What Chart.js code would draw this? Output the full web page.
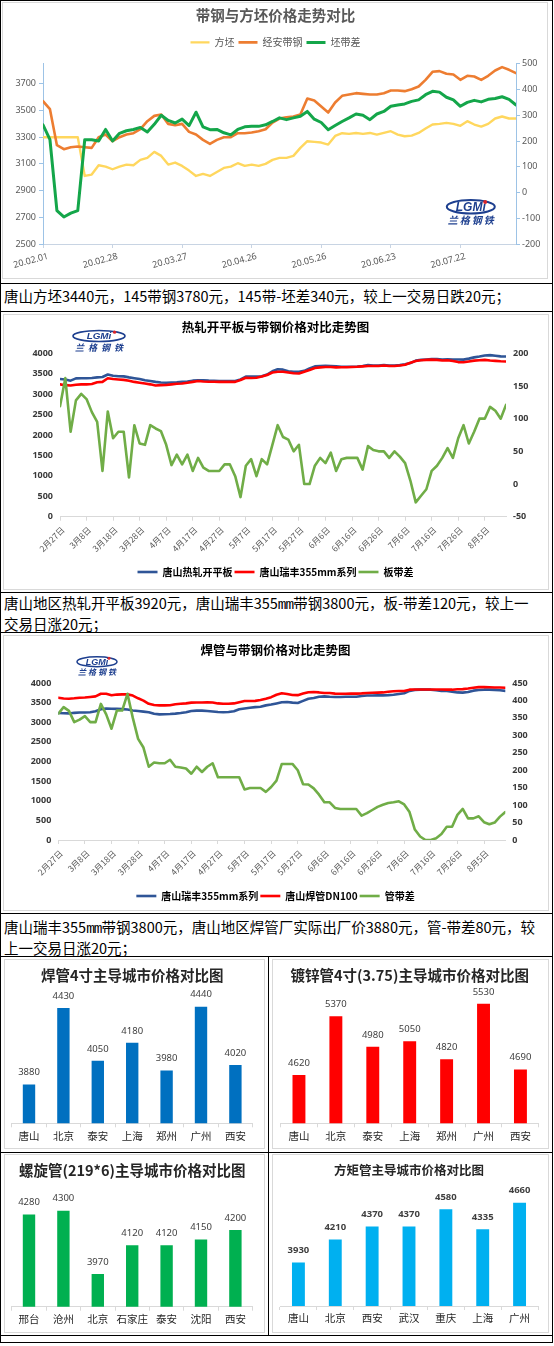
<!DOCTYPE html>
<html lang="zh-CN">
<head>
<meta charset="utf-8">
<title>带钢、焊管价格对比</title>
<script src="https://cdn.jsdelivr.net/npm/chart.js@4.4.1/dist/chart.umd.min.js"></script>
<style>
  html, body { margin: 0; padding: 0; background: #fff; }
  body { width: 554px; height: 1346px; position: relative; overflow: hidden;
         font-family: "Noto Sans CJK SC", "Noto Sans", sans-serif; }
  .hl { position: absolute; left: 0; width: 553px; height: 1px; background: #000; }
  .vl { position: absolute; width: 1px; background: #000; }
  .frame { position: absolute; border: 1px solid #d9d9d9; box-sizing: border-box; }
  canvas { position: absolute; }
  .note { position: absolute; left: 4px; font-size: 14.5px; line-height: 17.5px; color: #000; white-space: nowrap; }
  .mm { font-family: "Liberation Mono", monospace; letter-spacing: -1px; }
</style>
</head>
<body>

<!-- 表格线 -->
<div class="hl" style="top:0"></div>
<div class="hl" style="top:283px"></div>
<div class="hl" style="top:311px"></div>
<div class="hl" style="top:592px"></div>
<div class="hl" style="top:632px"></div>
<div class="hl" style="top:913px"></div>
<div class="hl" style="top:956px"></div>
<div class="hl" style="top:1152px"></div>
<div class="hl" style="top:1335px"></div>
<div class="hl" style="top:1342px"></div>
<div class="vl" style="left:0;top:0;height:1343px"></div>
<div class="vl" style="left:552px;top:0;height:1343px"></div>
<div class="vl" style="left:268px;top:956px;height:380px"></div>

<!-- 图表外框 -->
<div class="frame" style="left:2px;top:2px;width:546px;height:277px"></div>
<div class="frame" style="left:3px;top:314px;width:546px;height:276px"></div>
<div class="frame" style="left:3px;top:635px;width:546px;height:276px"></div>
<div class="frame" style="left:4px;top:959px;width:261px;height:190px"></div>
<div class="frame" style="left:272px;top:959px;width:277px;height:190px"></div>
<div class="frame" style="left:4px;top:1154px;width:261px;height:179px"></div>
<div class="frame" style="left:272px;top:1154px;width:277px;height:179px"></div>

<canvas id="c1" width="545" height="275" style="left:3px;top:3px"></canvas>
<div class="note" style="top:287px">唐山方坯3440元，145带钢3780元，145带-坯差340元，较上一交易日跌20元；</div>

<canvas id="c2" width="545" height="275" style="left:3px;top:314px"></canvas>
<div class="note" style="top:594px">唐山地区热轧开平板3920元，唐山瑞丰355<span class="mm">mm</span>带钢3800元，板-带差120元，较上一<br>交易日涨20元；</div>

<canvas id="c3" width="545" height="276" style="left:3px;top:635px"></canvas>
<div class="note" style="top:918px">唐山瑞丰355<span class="mm">mm</span>带钢3800元，唐山地区焊管厂实际出厂价3880元，管-带差80元，较<br>上一交易日涨20元；</div>

<canvas id="b1" width="259" height="188" style="left:5px;top:960px"></canvas>
<canvas id="b2" width="275" height="188" style="left:273px;top:960px"></canvas>
<canvas id="b3" width="259" height="175" style="left:5px;top:1156px"></canvas>
<canvas id="b4" width="275" height="175" style="left:273px;top:1156px"></canvas>

<script>
// ---------- 图1：带钢与方坯（每两个交易日取一点） ----------
const dateTicks1 = ['20.02.01', '20.02.28', '20.03.27', '20.04.26', '20.05.26', '20.06.23', '20.07.22'];
const leftTicks1 = [2500, 2700, 2900, 3100, 3300, 3500, 3700];
const rightTicks1 = [-200, -100, 0, 100, 200, 300, 400, 500];
const billet = [3300, 3300, 3300, 3300, 3300, 3300, 3010, 3020, 3090, 3080,
  3060, 3080, 3095, 3090, 3130, 3145, 3190, 3160, 3095, 3110,
  3085, 3050, 3010, 3025, 3010, 3040, 3070, 3080, 3105, 3085,
  3095, 3085, 3100, 3130, 3145, 3145, 3160, 3220, 3270, 3265,
  3260, 3245, 3310, 3330, 3325, 3332, 3325, 3332, 3320, 3332,
  3345, 3320, 3307, 3312, 3332, 3365, 3395, 3400, 3407, 3400,
  3385, 3420, 3395, 3380, 3400, 3440, 3455, 3440, 3440];
const jinganStrip = [3570, 3510, 3240, 3210, 3225, 3230, 3225, 3220, 3300, 3320,
  3270, 3300, 3320, 3330, 3360, 3420, 3460, 3470, 3400, 3390,
  3400, 3340, 3320, 3280, 3250, 3280, 3300, 3300, 3330, 3330,
  3335, 3345, 3360, 3410, 3440, 3450, 3455, 3470, 3590, 3575,
  3530, 3485, 3560, 3610, 3620, 3630, 3625, 3620, 3620, 3630,
  3650, 3650, 3645, 3660, 3680, 3730, 3790, 3795, 3775, 3770,
  3730, 3760, 3755, 3730, 3760, 3800, 3825, 3805, 3780];
const billetSpread = [263, 205, -70, -95, -80, -70, 205, 205, 200, 245,
  200, 230, 240, 245, 253, 235, 265, 300, 280, 270,
  285, 260, 312, 255, 244, 245, 232, 224, 245, 255,
  257, 257, 263, 276, 290, 283, 290, 296, 315, 285,
  272, 244, 260, 276, 290, 305, 300, 283, 305, 315,
  335, 340, 344, 354, 360, 380, 393, 390, 370, 360,
  335, 350, 358, 352, 362, 365, 372, 362, 340];

// ---------- 图2、图3：按日历日，每两天取一点 ----------
const dateTicks2 = ['2月27日', '3月8日', '3月18日', '3月28日', '4月7日', '4月17日', '4月27日', '5月7日', '5月17日',
  '5月27日', '6月6日', '6月16日', '6月26日', '7月6日', '7月16日', '7月26日', '8月5日'];
const hrPlate = [3370, 3360, 3330, 3385, 3390, 3390, 3395, 3410, 3420, 3480,
  3450, 3440, 3435, 3410, 3390, 3370, 3340, 3320, 3300, 3285,
  3280, 3285, 3290, 3300, 3310, 3330, 3340, 3340, 3330, 3325,
  3320, 3320, 3320, 3320, 3360, 3430, 3430, 3430, 3440, 3480,
  3560, 3610, 3600, 3560, 3545, 3550, 3570, 3630, 3680, 3690,
  3695, 3690, 3680, 3670, 3670, 3670, 3675, 3690, 3710, 3700,
  3700, 3710, 3700, 3700, 3710, 3730, 3760, 3820, 3840, 3850,
  3860, 3860, 3850, 3855, 3850, 3850, 3845, 3870, 3900, 3920,
  3945, 3955, 3940, 3925, 3920];
const strip355 = [3240, 3220, 3210, 3230, 3240, 3240, 3250, 3290, 3300, 3390,
  3370, 3360, 3350, 3330, 3300, 3280, 3260, 3240, 3210, 3220,
  3225, 3240, 3255, 3260, 3280, 3300, 3320, 3310, 3305, 3305,
  3300, 3305, 3300, 3300, 3345, 3400, 3395, 3400, 3430, 3470,
  3530, 3550, 3550, 3530, 3510, 3505, 3550, 3590, 3640, 3655,
  3665, 3665, 3655, 3660, 3660, 3665, 3670, 3680, 3690, 3690,
  3690, 3700, 3690, 3690, 3700, 3720, 3770, 3810, 3830, 3840,
  3845, 3840, 3825, 3830, 3810, 3785, 3780, 3800, 3820, 3830,
  3840, 3825, 3815, 3805, 3800];
const plateSpread = [119, 162, 80, 128, 138, 130, 110, 95, 20, 111,
  70, 80, 80, 10, 90, 62, 60, 90, 85, 81,
  60, 29, 45, 30, 45, 20, 40, 25, 20, 20,
  20, 30, 30, 12, -20, 28, 38, 12, 38, 30,
  60, 90, 72, 68, 50, 60, 0, 0, 28, 40,
  32, 48, 20, 38, 40, 40, 40, 22, 58, 52,
  50, 50, 40, 50, 42, 32, 5, -28, -18, -8,
  20, 28, 40, 55, 40, 70, 90, 62, 80, 100,
  100, 118, 112, 100, 121];
const strip355b = [3235, 3230, 3225, 3240, 3250, 3250, 3255, 3280, 3330, 3350,
  3345, 3340, 3335, 3325, 3300, 3285, 3270, 3255, 3215, 3200,
  3205, 3210, 3220, 3235, 3255, 3285, 3295, 3295, 3285, 3275,
  3260, 3255, 3260, 3280, 3330, 3350, 3370, 3385, 3395, 3430,
  3450, 3480, 3510, 3515, 3500, 3490, 3545, 3600, 3620, 3650,
  3660, 3650, 3645, 3645, 3650, 3650, 3650, 3670, 3680, 3680,
  3685, 3685, 3690, 3700, 3720, 3740, 3800, 3825, 3830, 3830,
  3830, 3815, 3800, 3795, 3780, 3760, 3755, 3770, 3805, 3820,
  3830, 3830, 3825, 3815, 3800];
const weldedDN100 = [3625, 3605, 3600, 3610, 3625, 3630, 3645, 3660, 3725, 3725,
  3690, 3705, 3710, 3710, 3680, 3610, 3550, 3470, 3440, 3430,
  3430, 3435, 3460, 3470, 3480, 3500, 3505, 3505, 3510, 3505,
  3480, 3470, 3470, 3480, 3510, 3540, 3540, 3545, 3565, 3600,
  3640, 3700, 3740, 3720, 3695, 3690, 3730, 3765, 3770, 3760,
  3745, 3745, 3730, 3725, 3725, 3730, 3730, 3735, 3745, 3750,
  3755, 3760, 3775, 3790, 3795, 3795, 3830, 3835, 3835, 3835,
  3835, 3835, 3835, 3830, 3830, 3840, 3845, 3860, 3880, 3895,
  3897, 3890, 3885, 3885, 3880];
const pipeSpread = [362, 381, 370, 338, 345, 355, 338, 338, 390, 360,
  319, 371, 371, 419, 350, 290, 265, 210, 222, 220,
  220, 230, 210, 208, 205, 190, 210, 195, 210, 220,
  180, 180, 180, 180, 180, 145, 149, 149, 149, 138,
  152, 170, 218, 218, 218, 200, 160, 159, 148, 130,
  108, 108, 92, 89, 89, 89, 89, 70, 77, 86,
  95, 101, 106, 108, 111, 102, 80, 30, 10, 0,
  0, 5, 17, 38, 38, 72, 89, 62, 62, 68,
  51, 45, 50, 67, 80];

// ---------- 柱状图：主导城市价格 ----------
const weldedCities = ['唐山', '北京', '泰安', '上海', '郑州', '广州', '西安'];
const weldedPrices = [3880, 4430, 4050, 4180, 3980, 4440, 4020];
const galvCities = ['唐山', '北京', '泰安', '上海', '郑州', '广州', '西安'];
const galvPrices = [4620, 5370, 4980, 5050, 4820, 5530, 4690];
const spiralCities = ['邢台', '沧州', '北京', '石家庄', '泰安', '沈阳', '西安'];
const spiralPrices = [4280, 4300, 3970, 4120, 4120, 4150, 4200];
const squareCities = ['唐山', '北京', '西安', '武汉', '重庆', '上海', '广州'];
const squarePrices = [3930, 4210, 4370, 4370, 4580, 4335, 4660];

const CJK = '"Noto Sans CJK SC", "Noto Sans", sans-serif';
Chart.defaults.font.family = '"Noto Sans", "Noto Sans CJK SC", sans-serif';
Chart.defaults.color = '#595959';

const seq = (n, step) => Array.from({length: n}, (_, k) => k * step);
const idx1 = seq(billet.length, 1);
const days2 = seq(hrPlate.length, 2);

// 兰格钢铁标志
const lgmiLogo = {
  id: 'lgmiLogo',
  afterDraw(chart, args, o) {
    const ctx = chart.ctx;
    ctx.save();
    ctx.strokeStyle = '#1d3f8f';
    ctx.lineWidth = Math.max(1.2, o.ry * 0.3);
    ctx.beginPath();
    ctx.ellipse(o.x, o.y, o.rx, o.ry, 0, 0, Math.PI * 2);
    ctx.stroke();
    ctx.fillStyle = '#1d3f8f';
    ctx.textAlign = 'center';
    ctx.textBaseline = 'middle';
    ctx.font = `italic bold ${o.ry * 1.8}px "Liberation Sans"`;
    ctx.fillText('LGMi', o.x, o.y + 0.5);
    ctx.fillStyle = '#d9262b';
    ctx.beginPath();
    ctx.arc(o.x + o.rx * 0.6, o.y - o.ry * 0.7, o.ry * 0.3, 0, Math.PI * 2);
    ctx.fill();
    ctx.fillStyle = '#1d3f8f';
    ctx.font = `italic bold ${o.size}px ${CJK}`;
    const name = '兰格钢铁';
    for (let k = 0; k < name.length; k++) {
      ctx.fillText(name[k], o.x - o.rx * 0.75 + k * o.rx * 0.5, o.ty);
    }
    ctx.restore();
  }
};

// 柱顶数值
const barValueLabels = {
  id: 'barValueLabels',
  afterDatasetsDraw(chart, args, o) {
    const ctx = chart.ctx;
    ctx.save();
    ctx.font = `${o.weight} ${o.size}px "Noto Sans", sans-serif`;
    ctx.fillStyle = o.color;
    ctx.textAlign = 'center';
    ctx.textBaseline = 'middle';
    chart.data.datasets.forEach((ds, i) => {
      chart.getDatasetMeta(i).data.forEach((bar, k) => {
        ctx.fillText(String(ds.data[k]), bar.x, bar.y - o.offset);
      });
    });
    ctx.restore();
  }
};

const legendLabels = (size, weight, color, width, pad) => ({
  usePointStyle: true, pointStyle: 'line', pointStyleWidth: width, padding: pad, color,
  font: {size, weight, family: CJK},
  sort: (a, b) => a.datasetIndex - b.datasetIndex
});

const lineBase = {
  responsive: false,
  animation: false,
  events: [],
  elements: {point: {radius: 0}, line: {tension: 0, borderJoinStyle: 'round', borderCapStyle: 'round'}}
};

const series = (label, data, color, width, axis, order) => ({
  label, data, borderColor: color, backgroundColor: color, borderWidth: width, yAxisID: axis, order
});

function dayAxis(tickLabels, height) {
  return {
    type: 'linear', min: 0, max: 168,
    afterBuildTicks: s => { s.ticks = tickLabels.map((_, k) => ({value: k * 10})); },
    afterFit: s => { s.height = height; },
    ticks: {autoSkip: false, minRotation: 45, maxRotation: 45, padding: 4, labelOffset: 3, color: '#595959',
      font: {size: 8.5, family: CJK}, callback: (v, k) => tickLabels[k]},
    grid: {drawOnChartArea: false, drawTicks: true, tickLength: 4, color: '#D9D9D9'},
    border: {color: '#D9D9D9'}
  };
}

function valueAxis(pos, min, max, step, width, pad) {
  return {
    type: 'linear', position: pos, min, max,
    afterFit: s => { s.width = width; },
    ticks: {stepSize: step, padding: pad, color: '#3a3a3a', font: {size: 9, weight: 'bold'}, callback: v => String(v)},
    grid: {display: false, drawTicks: false},
    border: {display: false}
  };
}

// 图1
new Chart(document.getElementById('c1'), {
  type: 'line',
  data: {
    labels: idx1,
    datasets: [
      series('方坯', billet, '#FFD75E', 2.4, 'y', 3),
      series('经安带钢', jinganStrip, '#ED7D31', 2.6, 'y', 2),
      series('坯带差', billetSpread, '#14A64A', 3, 'y1', 1)
    ]
  },
  options: {
    ...lineBase,
    plugins: {
      title: {display: true, text: '带钢与方坯价格走势对比', color: '#595959',
        font: {size: 14.5, weight: 'bold', family: CJK}, padding: {top: 4, bottom: 9}},
      subtitle: {display: true, text: '', weight: 500, font: {size: 6.4, lineHeight: 1}, padding: 0},
      legend: {position: 'top', labels: legendLabels(10, 'normal', '#595959', 19, 4)},
      lgmiLogo: {x: 467.8, y: 203.7, rx: 24, ry: 6.7, ty: 217, size: 10}
    },
    scales: {
      x: {
        type: 'linear', min: 0, max: idx1.length - 1,
        afterBuildTicks: s => { s.ticks = dateTicks1.map((_, k) => ({value: k * 10})); },
        afterFit: s => { s.height = 34; },
        ticks: {autoSkip: false, minRotation: 15, maxRotation: 15, padding: 3, labelOffset: 5, color: '#595959',
          font: {size: 9}, callback: (v, k) => dateTicks1[k]},
        grid: {drawOnChartArea: false, drawTicks: true, tickLength: 4, color: '#C8D4E3'},
        border: {color: '#C8D4E3'}
      },
      y: {
        type: 'linear', position: 'left', min: 2500, max: 3850,
        afterBuildTicks: s => { s.ticks = leftTicks1.map(v => ({value: v})); },
        afterFit: s => { s.width = 40; },
        ticks: {padding: 3, color: '#595959', font: {size: 9}, callback: v => String(v)},
        grid: {drawOnChartArea: false, drawTicks: true, tickLength: 4, color: '#9DC3E6'},
        border: {color: '#9DC3E6'}
      },
      y1: {
        type: 'linear', position: 'right', min: -200, max: 500,
        afterBuildTicks: s => { s.ticks = rightTicks1.map(v => ({value: v})); },
        afterFit: s => { s.width = 32; },
        ticks: {padding: 2, color: '#595959', font: {size: 9}, callback: v => String(v)},
        grid: {drawOnChartArea: false, drawTicks: true, tickLength: 4, color: '#9DC3E6'},
        border: {color: '#9DC3E6'}
      }
    }
  },
  plugins: [lgmiLogo]
});

// 图2
new Chart(document.getElementById('c2'), {
  type: 'line',
  data: {
    labels: days2,
    datasets: [
      series('唐山热轧开平板', hrPlate, '#2F5597', 2.6, 'y', 3),
      series('唐山瑞丰355mm系列', strip355, '#FF0000', 2.6, 'y', 2),
      series('板带差', plateSpread, '#70AD47', 2.6, 'y1', 1)
    ]
  },
  options: {
    ...lineBase,
    layout: {padding: {bottom: 2}},
    plugins: {
      title: {display: true, text: '热轧开平板与带钢价格对比走势图', color: '#000',
        font: {size: 12.5, weight: 'bold', family: CJK}, padding: {top: 5.8, bottom: 18.5}},
      legend: {position: 'bottom', labels: legendLabels(10, 'bold', '#000', 20, 2)},
      lgmiLogo: {x: 96, y: 22, rx: 26, ry: 5.5, ty: 34, size: 9}
    },
    scales: {
      x: dayAxis(dateTicks2, 48.3),
      y: valueAxis('left', 0, 4000, 500, 57, 7),
      y1: valueAxis('right', -50, 200, 50, 42, 7)
    }
  },
  plugins: [lgmiLogo]
});

// 图3
new Chart(document.getElementById('c3'), {
  type: 'line',
  data: {
    labels: days2,
    datasets: [
      series('唐山瑞丰355mm系列', strip355b, '#2F5597', 2.6, 'y', 3),
      series('唐山焊管DN100', weldedDN100, '#FF0000', 2.6, 'y', 2),
      series('管带差', pipeSpread, '#70AD47', 2.6, 'y1', 1)
    ]
  },
  options: {
    ...lineBase,
    plugins: {
      title: {display: true, text: '焊管与带钢价格对比走势图', color: '#000',
        font: {size: 12.5, weight: 'bold', family: CJK}, padding: {top: 7.5, bottom: 25.5}},
      legend: {position: 'bottom', labels: legendLabels(10, 'bold', '#000', 20, 2)},
      lgmiLogo: {x: 94, y: 26.7, rx: 20, ry: 5, ty: 37, size: 8}
    },
    scales: {
      x: dayAxis(dateTicks2, 49),
      y: valueAxis('left', 0, 4000, 500, 55.3, 7),
      y1: valueAxis('right', 0, 450, 50, 42.7, 7)
    }
  },
  plugins: [lgmiLogo]
});

// 柱状图
function cityBars(id, title, cities, prices, color, box) {
  return new Chart(document.getElementById(id), {
    type: 'bar',
    data: {
      labels: cities,
      datasets: [{data: prices, backgroundColor: color, barPercentage: box.bar, categoryPercentage: 1}]
    },
    options: {
      responsive: false,
      animation: false,
      events: [],
      layout: {padding: {left: box.left, right: box.right}},
      plugins: {
        legend: {display: false},
        title: {display: true, text: title, color: '#262626',
          font: {size: box.titleSize, weight: box.titleWeight, family: CJK},
          padding: {top: box.titleTop, bottom: box.titleBottom}},
        barValueLabels: {size: 9.5, weight: box.labelWeight, color: '#404040', offset: 12}
      },
      scales: {
        x: {
          afterFit: s => { s.height = box.xHeight; },
          ticks: {color: '#262626', padding: 2, autoSkip: false, minRotation: 0, maxRotation: 0,
            font: {size: 10.5, family: CJK}},
          grid: {drawOnChartArea: false, drawTicks: true, tickLength: 4, color: '#D9D9D9', offset: true},
          border: {color: '#D9D9D9'}
        },
        y: {display: false, min: box.min, max: box.max}
      }
    },
    plugins: [barValueLabels]
  });
}

cityBars('b1', '焊管4寸主导城市价格对比图', weldedCities, weldedPrices, '#0070C0',
  {min: 3600, max: 4500, left: 6.8, right: 11.4, bar: 0.36, titleSize: 14.5, titleWeight: 'bold',
   titleTop: 6.7, titleBottom: 14.3, xHeight: 24.7, labelWeight: 'normal'});
cityBars('b2', '镀锌管4寸(3.75)主导城市价格对比图', galvCities, galvPrices, '#FF0000',
  {min: 4000, max: 5600, left: 7.5, right: 9.1, bar: 0.35, titleSize: 14.5, titleWeight: 'bold',
   titleTop: 6.7, titleBottom: 14.3, xHeight: 24.7, labelWeight: 'normal'});
cityBars('b3', '螺旋管(219*6)主导城市价格对比图', spiralCities, spiralPrices, '#00B050',
  {min: 3800, max: 4400, left: 6.8, right: 11.4, bar: 0.36, titleSize: 14.5, titleWeight: 'bold',
   titleTop: 6, titleBottom: 12.1, xHeight: 24.3, labelWeight: 'normal'});
cityBars('b4', '方矩管主导城市价格对比图', squareCities, squarePrices, '#00B0F0',
  {min: 3400, max: 4800, left: 7, right: 10, bar: 0.35, titleSize: 12.5, titleWeight: 'bold',
   titleTop: 7, titleBottom: 13.2, xHeight: 25, labelWeight: 'bold'});
</script>
</body>
</html>
